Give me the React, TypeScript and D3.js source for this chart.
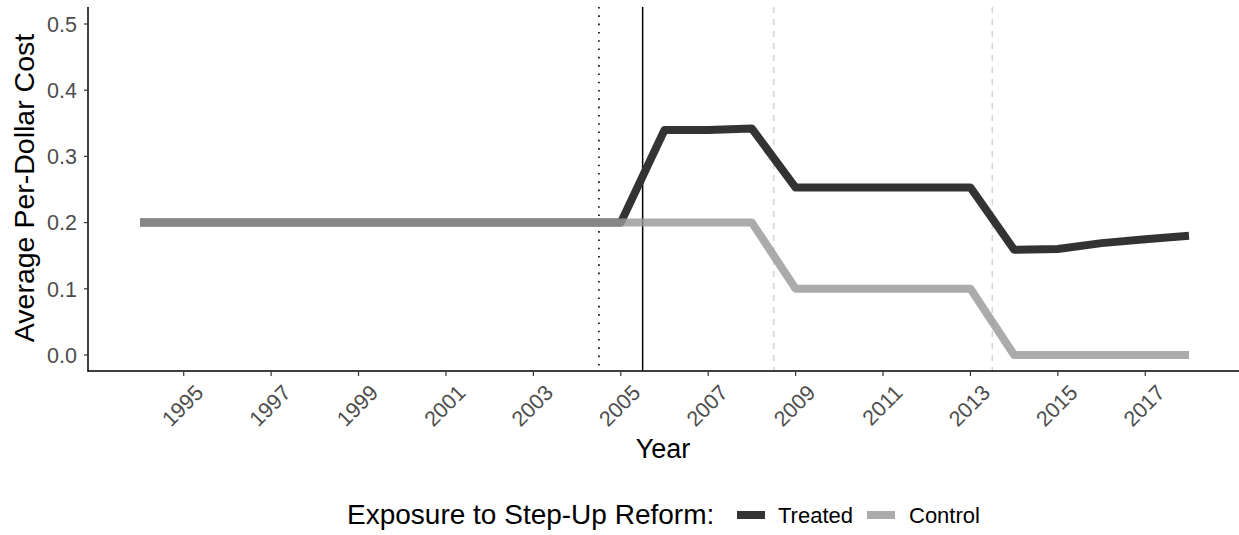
import { line, scaleLinear } from "d3";

const years = [
  1994, 1995, 1996, 1997, 1998, 1999, 2000, 2001, 2002, 2003, 2004, 2005, 2006, 2007, 2008, 2009, 2010,
  2011, 2012, 2013, 2014, 2015, 2016, 2017, 2018,
];
const treated = [
  0.2, 0.2, 0.2, 0.2, 0.2, 0.2, 0.2, 0.2, 0.2, 0.2, 0.2, 0.2, 0.34, 0.34, 0.342, 0.253, 0.253, 0.253,
  0.253, 0.253, 0.159, 0.16, 0.169, 0.175, 0.18,
];
const control = [
  0.2, 0.2, 0.2, 0.2, 0.2, 0.2, 0.2, 0.2, 0.2, 0.2, 0.2, 0.2, 0.2, 0.2, 0.2, 0.1, 0.1, 0.1, 0.1, 0.1, 0,
  0, 0, 0, 0,
];
const xTicks = [1995, 1997, 1999, 2001, 2003, 2005, 2007, 2009, 2011, 2013, 2015, 2017];
const yTicks = [0, 0.1, 0.2, 0.3, 0.4, 0.5];
const dottedLines = [2004.5];
const solidLines = [2005.5];
const dashedLines = [2008.5, 2013.5];

const FONT = "'Liberation Sans', Arial, Helvetica, sans-serif";

export default function App() {
  const width = 1239;
  const height = 535;
  const panel = { left: 88, right: 1239, top: 7, bottom: 371 };

  const x = scaleLinear().domain([1994, 2018]).range([140, 1189]);
  const y = scaleLinear().domain([0, 0.5]).range([355, 24]);

  const mk = (vals: number[]) =>
    line<number>()
      .x((_, i) => x(years[i]))
      .y((d) => y(d))(vals) ?? "";

  return (
    <svg
      width={width}
      height={height}
      style={{ position: "absolute", left: 0, top: 0, background: "#fff", fontFamily: FONT }}
    >
      {/* reference lines */}
      {dottedLines.map((v) => (
        <line key={`dt${v}`} x1={x(v)} x2={x(v)} y1={panel.top} y2={panel.bottom} stroke="#000" strokeWidth={1.6} strokeDasharray="1.6 6.7" />
      ))}
      {solidLines.map((v) => (
        <line key={`sl${v}`} x1={x(v)} x2={x(v)} y1={panel.top} y2={panel.bottom} stroke="#000" strokeWidth={1.5} />
      ))}
      {dashedLines.map((v) => (
        <line key={`dl${v}`} x1={x(v)} x2={x(v)} y1={panel.top} y2={panel.bottom} stroke="#d3d3d3" strokeWidth={1.5} strokeDasharray="6 6" />
      ))}

      {/* series */}
      <path d={mk(treated)} fill="none" stroke="#333333" strokeWidth={8} strokeLinejoin="round" />
      <path d={mk(control)} fill="none" stroke="#999999" strokeOpacity={0.82} strokeWidth={8} strokeLinejoin="round" />

      {/* axes */}
      <line x1={panel.left} x2={panel.left} y1={panel.top} y2={panel.bottom + 0.5} stroke="#000" strokeWidth={1.5} />
      <line x1={panel.left - 0.5} x2={panel.right} y1={panel.bottom} y2={panel.bottom} stroke="#000" strokeWidth={1.5} />

      {yTicks.map((t) => (
        <g key={`yt${t}`}>
          <line x1={panel.left - 4} x2={panel.left} y1={y(t)} y2={y(t)} stroke="#333" strokeWidth={1.2} />
          <text x={77} y={y(t)} dy="0.36em" textAnchor="end" fill="#4d4d4d" fontSize={21.5}>
            {t.toFixed(1)}
          </text>
        </g>
      ))}

      {xTicks.map((t) => (
        <g key={`xt${t}`}>
          <line x1={x(t)} x2={x(t)} y1={panel.bottom} y2={panel.bottom + 5} stroke="#333" strokeWidth={1.2} />
          <text
            transform={`translate(${x(t) + 21}, 394) rotate(-45)`}
            textAnchor="end"
            fill="#4d4d4d"
            fontSize={21.5}
          >
            {t}
          </text>
        </g>
      ))}

      <text x={663} y={458} textAnchor="middle" fontSize={27} fill="#000">
        Year
      </text>
      <text transform="translate(34, 188) rotate(-90)" textAnchor="middle" fontSize={28.5} fill="#000">
        Average Per-Dollar Cost
      </text>

      {/* legend */}
      <text x={347} y={524} fontSize={28} fill="#000">
        Exposure to Step-Up Reform:
      </text>
      <line x1={737} x2={765} y1={515} y2={515} stroke="#333333" strokeWidth={8} />
      <text x={778} y={523} fontSize={22} fill="#000">
        Treated
      </text>
      <line x1={867} x2={895} y1={515} y2={515} stroke="#999999" strokeOpacity={0.82} strokeWidth={8} />
      <text x={909} y={523} fontSize={22} fill="#000">
        Control
      </text>
    </svg>
  );
}
